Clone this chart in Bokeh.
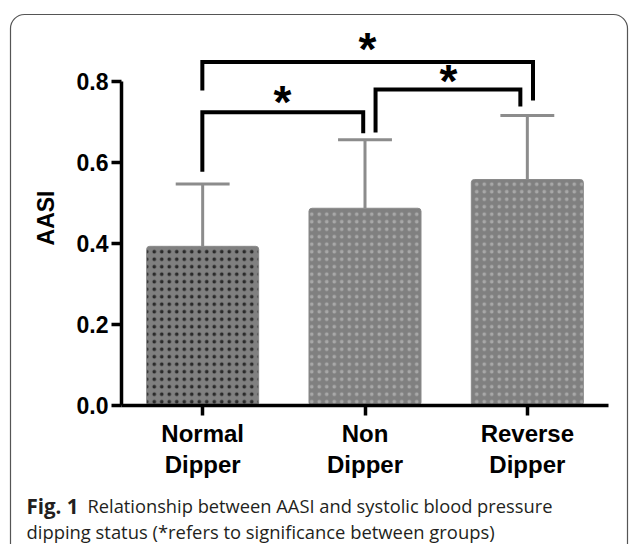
from urllib.parse import quote
from bokeh.plotting import figure
from bokeh.models import (ColumnDataSource, Range1d, FixedTicker, Label,
                          NumeralTickFormatter)
from bokeh.core.properties import value
from bokeh.embed import file_html
from bokeh.resources import INLINE

# ---- data ----
groups = ["Normal\nDipper", "Non\nDipper", "Reverse\nDipper"]
positions = [0.5, 1.5, 2.5]
means = [0.393, 0.487, 0.558]
sds = [0.154, 0.169, 0.158]
dot_colors = ["#2a2a2a", "#a8a8a8", "#a8a8a8"]
y_ticks = [0.0, 0.2, 0.4, 0.6, 0.8]

# significance brackets: left x, right x, top y, left-leg bottom, right-leg bottom
br_x1 = [0.498, 1.565, 0.498]
br_x2 = [1.489, 2.457, 2.535]
br_top = [0.724, 0.780, 0.848]
br_lb = [0.577, 0.674, 0.778]
br_rb = [0.672, 0.738, 0.753]
star_x = [0.992, 2.014, 1.515]
star_y = [0.763, 0.815, 0.894]

caption_bold = "Fig. 1"
caption_line1 = "Relationship between AASI and systolic blood pressure"
caption_line2 = "dipping status (*refers to significance between groups)"

FONT = "Liberation Sans"

p = figure(width=630, height=544, output_backend="svg", toolbar_location=None,
           x_range=Range1d(0, 3), y_range=Range1d(0, 0.9259),
           min_border_left=121, min_border_right=22, min_border_top=30,
           min_border_bottom=139)
p.grid.visible = False
p.outline_line_color = None
p.background_fill_color = None
p.border_fill_color = None

# thin rounded panel frame behind the figure
frame_svg = ("<svg xmlns='http://www.w3.org/2000/svg' width='630' height='544'>"
             "<rect x='10.5' y='14.5' width='617' height='580' rx='14' ry='14' "
             "fill='white' stroke='#555555' stroke-width='1.2'/></svg>")
p.styles = {"background-image": "url(\"data:image/svg+xml," + quote(frame_svg) + "\")",
            "background-repeat": "no-repeat"}

src = ColumnDataSource(dict(x=positions, top=means, hc=dot_colors,
                            err=[m + s for m, s in zip(means, sds)],
                            cl=[x - 0.166 for x in positions],
                            cr=[x + 0.166 for x in positions]))

# error bars
p.segment(x0="x", y0="top", x1="x", y1="err", source=src,
          line_color="#8c8c8c", line_width=3)
p.segment(x0="cl", y0="err", x1="cr", y1="err", source=src,
          line_color="#8c8c8c", line_width=3)

# bars
p.vbar(x="x", top="top", bottom=0, width=0.69, source=src,
       fill_color="#808080", line_color="#8a8a8a", line_width=1,
       hatch_pattern=".", hatch_color="hc", hatch_scale=7.5, hatch_weight=0.1,
       border_radius=3)

# brackets
xs = [[a, a, b, b] for a, b in zip(br_x1, br_x2)]
ys = [[lb, t, t, rb] for lb, t, rb in zip(br_lb, br_top, br_rb)]
p.multi_line(xs=xs, ys=ys, line_color="black", line_width=4,
             line_join="miter", line_cap="butt")
p.text(x=star_x, y=star_y, text=["*"] * 3, text_font=value(FONT),
       text_font_style="bold", text_font_size="46px", text_align="center",
       text_baseline="middle", y_offset=6, text_color="black")

# axes
for ax in (p.xaxis[0], p.yaxis[0]):
    ax.axis_line_width = 3.5
    ax.axis_line_color = "black"
    ax.major_tick_line_width = 3.5
    ax.major_tick_line_color = "black"
    ax.major_tick_out = 10
    ax.major_tick_in = 0
    ax.minor_tick_line_color = None
    ax.major_label_text_font = FONT
    ax.major_label_text_font_style = "bold"
    ax.major_label_text_color = "black"

p.yaxis.major_label_text_font_size = "23px"
p.yaxis.ticker = FixedTicker(ticks=y_ticks)
p.yaxis.formatter = NumeralTickFormatter(format="0.0")
p.yaxis.bounds = (0, 0.8)
p.yaxis.major_label_standoff = 3
p.yaxis.axis_label = "AASI"
p.yaxis.axis_label_text_font = FONT
p.yaxis.axis_label_text_font_style = "bold"
p.yaxis.axis_label_text_font_size = "23px"
p.yaxis.axis_label_text_color = "black"
p.yaxis.axis_label_standoff = 15

p.xaxis.major_label_text_font_size = "24px"
p.xaxis.ticker = FixedTicker(ticks=positions)
p.xaxis.major_label_overrides = {pos: g for pos, g in zip(positions, groups)}
p.xaxis.bounds = (0, 3)
p.xaxis.major_label_standoff = 4
p.xaxis.major_label_text_line_height = 1.15

# caption (in side panels so that it is not clipped to the frame)
CAP_FONT = "Open Sans"
p.add_layout(Label(x=26, y=505, x_units="canvas", y_units="canvas",
                   text=caption_bold, text_font=CAP_FONT,
                   text_font_style="bold", text_font_size="20.5px",
                   text_color="#231f20", text_baseline="alphabetic"), "above")
p.add_layout(Label(x=87, y=505, x_units="canvas", y_units="canvas",
                   text=caption_line1, text_font=CAP_FONT,
                   text_font_size="18.3px", text_color="#231f20",
                   text_baseline="alphabetic"), "below")
p.add_layout(Label(x=26, y=531, x_units="canvas", y_units="canvas",
                   text=caption_line2, text_font=CAP_FONT,
                   text_font_size="18.4px", text_color="#231f20",
                   text_baseline="alphabetic"), "below")

open("out.html", "w").write(file_html(p, INLINE))
